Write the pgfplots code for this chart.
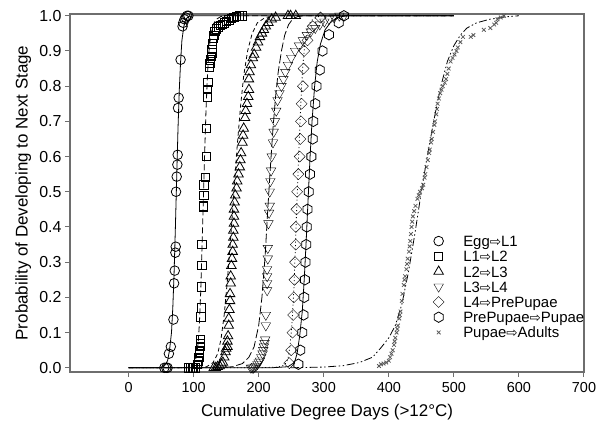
\documentclass[border=0pt]{standalone}
\usepackage{fontspec}
\setmainfont{Liberation Sans}
\newfontfamily\arrowfont{DejaVu Sans}[Scale=0.9]
\usepackage{pgfplots}
\pgfplotsset{compat=1.18}
\newcommand{\arr}{{\arrowfont ⇨}}
\definecolor{axisgray}{RGB}{110,110,110}
\definecolor{xgray}{RGB}{90,90,90}
\pgfdeclareplotmark{hexagon}{%
  \pgfpathmoveto{\pgfpointpolar{90}{\pgfplotmarksize}}%
  \pgfpathlineto{\pgfpointpolar{150}{\pgfplotmarksize}}%
  \pgfpathlineto{\pgfpointpolar{210}{\pgfplotmarksize}}%
  \pgfpathlineto{\pgfpointpolar{270}{\pgfplotmarksize}}%
  \pgfpathlineto{\pgfpointpolar{330}{\pgfplotmarksize}}%
  \pgfpathlineto{\pgfpointpolar{30}{\pgfplotmarksize}}%
  \pgfpathclose
  \pgfusepathqstroke}
\begin{document}
\begin{tikzpicture}
\begin{axis}[scale only axis, width=514bp, height=358bp,
  xmin=-90, xmax=700, ymin=-0.012, ymax=1.005,
  xtick={0,100,200,300,400,500,600,700},
  ytick={0,0.1,0.2,0.3,0.4,0.5,0.6,0.7,0.8,0.9,1.0},
  tick align=outside, xtick pos=left, ytick pos=left,
  major tick length=5bp,
  axis line style={draw=axisgray, line width=1.4bp},
  tick style={draw=axisgray, line width=1bp},
  /pgf/number format/assume math mode=true,
  xticklabel style={font=\fontsize{14.5}{17}\selectfont, yshift=-2bp},
  yticklabel style={font=\fontsize{16}{19}\selectfont,
    /pgf/number format/fixed, /pgf/number format/fixed zerofill,
    /pgf/number format/precision=1},
  label style={font=\fontsize{17}{20}\selectfont},
  xlabel={Cumulative Degree Days (>12°C)},
  ylabel={Probability of Developing to Next Stage},
  xlabel style={at={(axis description cs:0.5,-0.112)}, anchor=center},
  ylabel style={at={(axis description cs:-0.091,0.5)}, anchor=center},
  legend cell align=left,
  legend image code/.code={\path[draw=none, fill=none] (-6bp,-7.8bp) rectangle (6bp,4.2bp);
    \path[#1, only marks] plot coordinates {(0bp,0bp)};},
  legend style={draw=none, fill=none, inner sep=0pt, outer sep=0pt,
    at={(axis cs:467.4,0.381)}, anchor=north west,
    font=\fontsize{15}{18}\selectfont, row sep=0pt,
    nodes={inner sep=0.4bp},
    /tikz/every odd column/.append style={column sep=18.2bp}},
  fit/.style={forget plot, black, line width=0.8bp, no marks},
  pts/.style={only marks, black, mark options={line width=0.8bp, solid}}
]
% fitted curves
\addplot[fit] coordinates {(0,0) (40,0) (50,0.001) (55,0.005) (60,0.02) (63,0.05) (66,0.1) (68,0.17) (70,0.27) (72,0.40) (74,0.54) (76,0.68) (78,0.79) (80,0.87) (82,0.93) (85,0.97) (88,0.99) (92,0.998) (100,1) (500,1)};
\addplot[fit, dash pattern=on 6bp off 3bp] coordinates {(0,0) (80,0) (95,0.002) (100,0.008) (104,0.03) (107,0.07) (109,0.13) (111,0.22) (113,0.35) (115,0.48) (117,0.61) (119,0.73) (121,0.82) (123,0.89) (126,0.94) (130,0.975) (135,0.99) (142,0.998) (150,1) (500,1)};
\addplot[fit, dash pattern=on 4bp off 3bp] coordinates {(0,0) (100,0) (120,0.003) (130,0.015) (137,0.04) (142,0.08) (147,0.15) (152,0.25) (157,0.37) (162,0.50) (167,0.63) (172,0.74) (177,0.83) (183,0.90) (190,0.95) (198,0.98) (210,0.995) (225,1) (500,1)};
\addplot[fit, dash pattern=on 9bp off 3bp] coordinates {(0,0) (140,0) (160,0.003) (175,0.012) (185,0.03) (193,0.06) (200,0.12) (205,0.2) (210,0.32) (214,0.45) (218,0.57) (222,0.68) (226,0.77) (230,0.84) (235,0.9) (240,0.945) (246,0.975) (252,0.99) (260,0.998) (270,1) (500,1)};
\addplot[fit, dash pattern=on 1bp off 2.5bp] coordinates {(0,0) (200,0) (230,0.002) (240,0.008) (245,0.025) (248,0.06) (251,0.12) (254,0.22) (256,0.32) (258,0.43) (260,0.53) (262,0.63) (264,0.72) (266,0.80) (268,0.86) (271,0.92) (275,0.96) (280,0.985) (290,0.997) (300,1) (500,1)};
\addplot[fit] coordinates {(0,0) (220,0) (245,0.003) (255,0.015) (259,0.04) (263,0.09) (267,0.16) (270,0.25) (273,0.36) (276,0.48) (279,0.60) (282,0.70) (286,0.80) (290,0.87) (295,0.92) (302,0.96) (310,0.98) (320,0.995) (335,1) (500,1)};
\addplot[fit, dash pattern=on 8bp off 2.5bp on 1.5bp off 2.5bp on 1.5bp off 2.5bp] coordinates {(250,0) (300,0.002) (330,0.006) (355,0.015) (375,0.03) (388,0.057) (400,0.085) (410,0.12) (420,0.18) (430,0.27) (440,0.38) (450,0.50) (460,0.61) (470,0.71) (480,0.80) (490,0.87) (500,0.915) (510,0.945) (520,0.965) (535,0.98) (555,0.99) (580,0.997) (600,1.0)};
% observed data
\addplot[pts, mark=o, mark size=4.8bp] coordinates {(55,0) (58,0) (60,0) (62,0.04) (65,0.06) (69,0.137) (70,0.24) (71,0.276) (72,0.327) (72.5,0.344) (73,0.50) (74,0.543) (75,0.577) (75.5,0.605) (76,0.738) (77,0.767) (80,0.875) (83,0.97) (84,0.98) (86,0.99) (88,0.995) (90,1.0) (92,1.0)};
\addlegendentry{\strut Egg\arr L1}
\addplot[pts, mark=square, mark size=4.2bp] coordinates {(92,0) (95,0) (98,0) (100,0) (103,0) (106,0.01) (107,0.02) (108,0.03) (109,0.04) (109,0.05) (110,0.06) (110,0.07) (110,0.08) (111,0.145) (112,0.17) (112,0.23) (113,0.29) (113,0.35) (115,0.457) (115,0.46) (116,0.49) (116,0.52) (118,0.54) (120,0.60) (120,0.68) (121,0.77) (121,0.79) (122,0.81) (124,0.855) (125,0.865) (126,0.875) (127,0.885) (128,0.895) (128,0.905) (129,0.92) (130,0.935) (131,0.945) (133,0.955) (135,0.963) (138,0.968) (141,0.972) (144,0.976) (147,0.98) (150,0.984) (154,0.988) (158,0.992) (162,0.995) (166,0.998) (170,1.0) (174,1.0)};
\addlegendentry{\strut L1\arr L2}
\addplot[pts, mark=triangle, mark size=5.5bp] coordinates {(131,0) (134,0) (137,0.003) (140,0.005) (143,0.01) (145,0.015) (147,0.03) (149,0.045) (150,0.055) (152,0.06) (152,0.075) (153,0.09) (154,0.12) (154,0.14) (155,0.165) (156,0.19) (156,0.21) (157,0.24) (157,0.26) (158,0.29) (159,0.31) (160,0.33) (160,0.35) (161,0.37) (161,0.39) (162,0.41) (162,0.43) (162,0.45) (163,0.47) (164,0.49) (166,0.51) (167,0.53) (169,0.55) (171,0.57) (172,0.59) (173,0.61) (175,0.64) (176,0.66) (177,0.68) (179,0.71) (180,0.73) (182,0.75) (184,0.77) (185,0.79) (185,0.82) (186,0.84) (188,0.86) (191,0.88) (193,0.89) (196,0.91) (199,0.925) (202,0.94) (205,0.95) (208,0.96) (211,0.97) (215,0.98) (220,0.99) (226,0.995) (245,1.0) (249,1.0) (257,1.0)};
\addlegendentry{\strut L2\arr L3}
\addplot[pts, mark=triangle, mark size=5.5bp, mark options={rotate=180}] coordinates {(188,0) (190,0) (192,0) (194,0.003) (196,0.005) (198,0.01) (200,0.015) (202,0.02) (204,0.03) (206,0.04) (207,0.05) (208,0.06) (209,0.07) (210,0.08) (211,0.12) (211,0.15) (213,0.22) (213,0.24) (213,0.26) (213,0.28) (214,0.31) (214,0.34) (215,0.41) (216,0.44) (217,0.46) (217,0.50) (218,0.53) (219,0.56) (220,0.60) (222,0.64) (223,0.67) (225,0.70) (227,0.73) (229,0.76) (232,0.78) (235,0.80) (238,0.82) (241,0.84) (245,0.86) (250,0.88) (256,0.90) (262,0.915) (268,0.93) (274,0.945) (280,0.955) (287,0.965) (294,0.975) (301,0.983) (308,0.99) (316,0.995) (324,1.0) (331,1.0)};
\addlegendentry{\strut L3\arr L4}
\addplot[pts, mark=square, mark size=3.9bp, mark options={rotate=45}] coordinates {(247,0.013) (250,0.05) (252,0.10) (253,0.15) (254,0.20) (255,0.25) (256,0.30) (257,0.35) (257,0.40) (258,0.45) (259,0.50) (261,0.55) (263,0.60) (264,0.65) (265,0.70) (266,0.75) (268,0.80) (269,0.85) (270,0.90) (275,0.93) (283,0.97) (295,0.995)};
\addlegendentry{\strut L4\arr PrePupae}
\addplot[pts, mark=hexagon, mark size=5.2bp] coordinates {(261,0.01) (264,0.05) (267,0.10) (269,0.15) (270,0.20) (271,0.25) (272,0.30) (273,0.35) (274,0.40) (275,0.45) (277,0.50) (279,0.55) (281,0.60) (283,0.65) (284,0.70) (287,0.75) (289,0.80) (294,0.846) (298,0.90) (308,0.946) (323,0.98) (331,1.0)};
\addlegendentry{\strut PrePupae\arr Pupae}
\addplot[only marks, xgray, mark=x, mark size=2.6bp, mark options={line width=0.8bp}] coordinates {(385,0.005) (388,0.01) (392,0.012) (396,0.015) (400,0.02) (402,0.03) (404,0.04) (406,0.05) (408,0.065) (409,0.075) (410,0.085) (412,0.10) (413,0.11) (414,0.12) (416,0.14) (417,0.15) (418,0.16) (420,0.19) (421,0.21) (423,0.235) (424,0.25) (425,0.26) (427,0.28) (428,0.295) (429,0.31) (431,0.33) (432,0.345) (433,0.36) (434,0.38) (435,0.40) (436,0.415) (437,0.43) (439,0.445) (441,0.46) (444,0.48) (446,0.49) (448,0.50) (451,0.51) (453,0.52) (455,0.54) (456,0.55) (458,0.57) (460,0.59) (462,0.61) (463,0.62) (465,0.64) (466,0.65) (468,0.67) (470,0.69) (471,0.70) (473,0.72) (474,0.735) (475,0.75) (477,0.765) (479,0.78) (481,0.79) (483,0.80) (486,0.81) (488,0.82) (490,0.835) (492,0.85) (495,0.87) (498,0.88) (501,0.89) (504,0.90) (506,0.91) (510,0.925) (514,0.94) (526,0.94) (530,0.945) (546,0.96) (556,0.965) (562,0.975) (565,0.98) (567,0.99) (572,0.995) (577,1.0)};
\addlegendentry{\strut Pupae\arr Adults}
\end{axis}
\path (-70bp,-50bp) rectangle (533bp,372bp);
\end{tikzpicture}
\end{document}
